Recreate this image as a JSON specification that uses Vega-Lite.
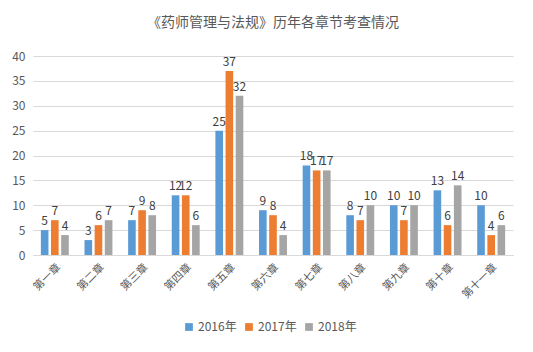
{
  "$schema": "https://vega.github.io/schema/vega-lite/v6.json",
  "autosize": "none",
  "width": 480,
  "height": 199,
  "padding": {"left": 33, "top": 56, "right": 20, "bottom": 97},
  "background": "white",
  "title": {
    "text": "《药师管理与法规》历年各章节考查情况",
    "font": "Noto Sans CJK SC",
    "fontSize": 14,
    "fontWeight": "normal",
    "color": "#595959",
    "anchor": "middle",
    "offset": 20
  },
  "config": {
    "view": {"stroke": null},
    "font": "Noto Sans CJK SC"
  },
  "data": {
    "values": [
      {"chapter": "第一章", "year": "2016年", "count": 5},
      {"chapter": "第一章", "year": "2017年", "count": 7},
      {"chapter": "第一章", "year": "2018年", "count": 4},
      {"chapter": "第二章", "year": "2016年", "count": 3},
      {"chapter": "第二章", "year": "2017年", "count": 6},
      {"chapter": "第二章", "year": "2018年", "count": 7},
      {"chapter": "第三章", "year": "2016年", "count": 7},
      {"chapter": "第三章", "year": "2017年", "count": 9},
      {"chapter": "第三章", "year": "2018年", "count": 8},
      {"chapter": "第四章", "year": "2016年", "count": 12},
      {"chapter": "第四章", "year": "2017年", "count": 12},
      {"chapter": "第四章", "year": "2018年", "count": 6},
      {"chapter": "第五章", "year": "2016年", "count": 25},
      {"chapter": "第五章", "year": "2017年", "count": 37},
      {"chapter": "第五章", "year": "2018年", "count": 32},
      {"chapter": "第六章", "year": "2016年", "count": 9},
      {"chapter": "第六章", "year": "2017年", "count": 8},
      {"chapter": "第六章", "year": "2018年", "count": 4},
      {"chapter": "第七章", "year": "2016年", "count": 18},
      {"chapter": "第七章", "year": "2017年", "count": 17},
      {"chapter": "第七章", "year": "2018年", "count": 17},
      {"chapter": "第八章", "year": "2016年", "count": 8},
      {"chapter": "第八章", "year": "2017年", "count": 7},
      {"chapter": "第八章", "year": "2018年", "count": 10},
      {"chapter": "第九章", "year": "2016年", "count": 10},
      {"chapter": "第九章", "year": "2017年", "count": 7},
      {"chapter": "第九章", "year": "2018年", "count": 10},
      {"chapter": "第十章", "year": "2016年", "count": 13},
      {"chapter": "第十章", "year": "2017年", "count": 6},
      {"chapter": "第十章", "year": "2018年", "count": 14},
      {"chapter": "第十一章", "year": "2016年", "count": 10},
      {"chapter": "第十一章", "year": "2017年", "count": 4},
      {"chapter": "第十一章", "year": "2018年", "count": 6}
    ]
  },
  "encoding": {
    "x": {
      "field": "chapter",
      "type": "nominal",
      "sort": null,
      "scale": {"paddingInner": 0.36, "paddingOuter": 0.18},
      "axis": {
        "title": null,
        "labelAngle": -45,
        "labelFontSize": 11,
        "labelColor": "#595959",
        "labelPadding": 6,
        "ticks": false,
        "domainColor": "#d9d9d9",
        "domainWidth": 1
      }
    },
    "xOffset": {
      "field": "year",
      "type": "nominal",
      "scale": {"paddingInner": 0.25}
    },
    "y": {
      "field": "count",
      "type": "quantitative",
      "scale": {"domain": [0, 40], "nice": false},
      "axis": {
        "title": null,
        "values": [0, 5, 10, 15, 20, 25, 30, 35, 40],
        "labelFontSize": 12,
        "labelColor": "#595959",
        "labelPadding": 8,
        "ticks": false,
        "domain": false,
        "gridColor": "#d9d9d9",
        "gridWidth": 1
      }
    },
    "color": {
      "field": "year",
      "type": "nominal",
      "scale": {"range": ["#5b9bd5", "#ed7d31", "#a5a5a5"]},
      "legend": {
        "title": null,
        "orient": "none",
        "legendX": 150,
        "legendY": 265,
        "direction": "horizontal",
        "symbolType": "square",
        "symbolSize": 60,
        "symbolStrokeWidth": 0,
        "labelFontSize": 12,
        "labelColor": "#595959",
        "columnPadding": 6,
        "labelOffset": 3
      }
    }
  },
  "layer": [
    {"mark": {"type": "bar"}},
    {
      "mark": {"type": "text", "dy": -9, "fontSize": 12, "color": "#404040"},
      "encoding": {
        "text": {"field": "count", "type": "quantitative"},
        "color": {"value": "#404040"}
      }
    }
  ]
}
